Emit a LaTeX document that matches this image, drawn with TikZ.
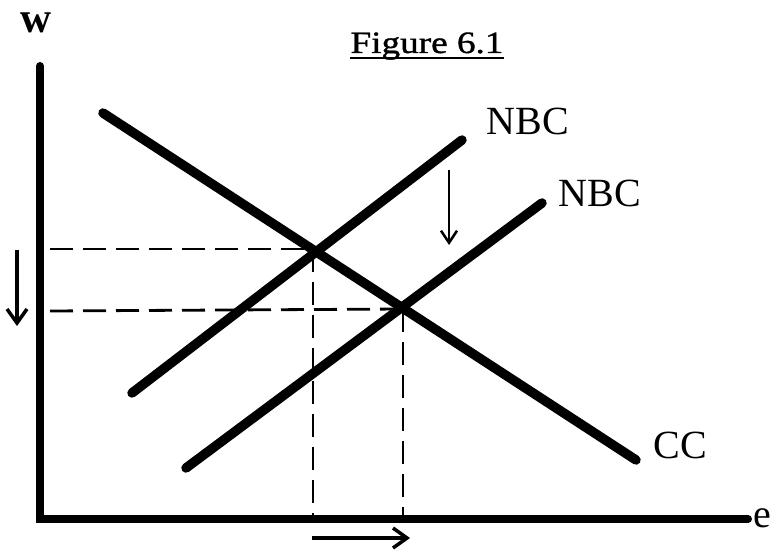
\documentclass[tikz,border=0pt]{standalone}
\usepackage{fontspec}
\setmainfont{Liberation Serif}
\newfontfamily\titlefont[FakeStretch=1.2, FakeBold=1.2]{Liberation Serif}
\usetikzlibrary{arrows.meta}
\tikzset{
  axis/.style={line width=8pt, line cap=round, line join=miter},
  curve/.style={line width=9.5pt, line cap=round},
  guide/.style={line width=2.8pt, dash pattern=on 23pt off 10pt},
  lbl/.style={font=\fontsize{40}{48}\selectfont, inner sep=0pt},
  shiftarrow/.style={line width=3.5pt, -{Straight Barb[length=14pt, width=20pt, line width=3.5pt]}},
  thinarrow/.style={line width=2pt, -{Straight Barb[length=12pt, width=16pt, line width=2.5pt]}}
}
\begin{document}
\begin{tikzpicture}[x=1pt, y=-1pt]
\useasboundingbox (0,0) rectangle (774,556);
% coordinates
\coordinate (ytop) at (40,66);
\coordinate (origin) at (40,519);
\coordinate (xend) at (748,519);
\coordinate (ccA) at (103,113);
\coordinate (ccB) at (636,460);
\coordinate (n1A) at (132,393);
\coordinate (n1B) at (462,140);
\coordinate (n2A) at (186,468);
\coordinate (n2B) at (542,203);
\coordinate (E1) at (313,249);
\coordinate (E2) at (403,309);
\coordinate (E1y) at (50,249);
\coordinate (E2y) at (50,311);
\coordinate (E1x) at (313,519);
\coordinate (E2x) at (403,519);
% axes
\draw[axis] (ytop) -- (origin) -- (xend);
% dashed guides
\draw[guide] (E1y) -- (E1);
\draw[guide] (E2y) -- (E2);
\draw[guide] (E1) -- (E1x);
\draw[guide] (E2) -- (E2x);
% curves
\draw[curve] (ccA) -- (ccB);
\draw[curve] (n1A) -- (n1B);
\draw[curve] (n2A) -- (n2B);
% labels
\node[lbl, font=\fontsize{43}{50}\selectfont\bfseries] (w) at (36,23) {w};
\node[lbl] (e) at (762,518) {e};
\node[lbl] (nbc1) at (528,121) {NBC};
\node[lbl] (nbc2) at (600,193) {NBC};
\node[lbl] (cc) at (680,445) {CC};
\node[font=\titlefont\fontsize{31}{36}\selectfont, inner sep=0pt, anchor=base] (title) at (427,53) {Figure 6.1};
\draw[line width=2.2pt] ([yshift=-5pt]title.base west) -- ([yshift=-5pt]title.base east);
% shift arrows
\coordinate (a1s) at (17,250);
\coordinate (a1e) at (17,326);
\coordinate (a2s) at (449,170);
\coordinate (a2e) at (449,245);
\coordinate (a3s) at (312,538);
\coordinate (a3e) at (410,538);
\draw[shiftarrow] (a1s) -- (a1e);
\draw[thinarrow] (a2s) -- (a2e);
\draw[shiftarrow] (a3s) -- (a3e);
\end{tikzpicture}
\end{document}
